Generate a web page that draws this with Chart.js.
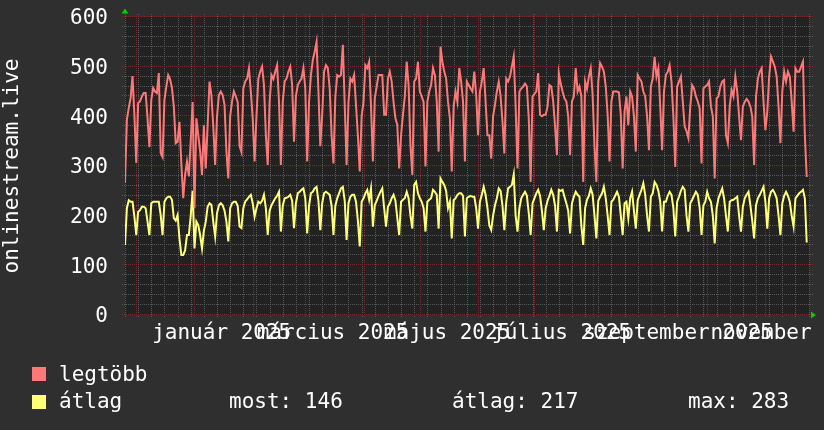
<!DOCTYPE html>
<html lang="hu">
<head>
<meta charset="utf-8">
<title>onlinestream.live</title>
<script src="https://cdn.jsdelivr.net/npm/chart.js@4.4.1/dist/chart.umd.min.js"></script>
<style>
  html, body { margin: 0; padding: 0; background: #2f2f2f; }
  #wrap {
    position: relative; width: 824px; height: 430px; overflow: hidden;
    font-family: 'DejaVu Sans Mono', monospace; font-size: 21px; color: #ffffff;
  }
  #chart { position: absolute; left: 0; top: 0; }
  .lg { position: absolute; line-height: 21px; white-space: pre; }
  .sw { position: absolute; width: 14px; height: 14px; }
</style>
</head>
<body>
<div id="wrap">
  <canvas id="chart" width="824" height="430"></canvas>
  <div class="sw" style="left:32px;top:367px;background:#ff7878"></div>
  <div class="lg" style="left:59px;top:364px">legtöbb</div>
  <div class="sw" style="left:32px;top:395px;background:#ffff78"></div>
  <div class="lg" style="left:59px;top:391px">átlag</div>
  <div class="lg" style="left:229px;top:391px">most: 146</div>
  <div class="lg" style="left:452px;top:391px">átlag: 217</div>
  <div class="lg" style="left:688px;top:391px">max: 283</div>
</div>
<script>
'use strict';

// ── Data: one value per day, day 0 = 2024-11-25 (Monday), one row per week ──
const legtobb = [
  266, 393, 417, 437, 481, 403, 306,
  427, 430, 440, 447, 447, 396, 338,
  433, 457, 450, 447, 487, 326, 318,
  433, 460, 483, 475, 457, 420, 346,
  349, 389, 305, 235, 282, 309, 279,
  350, 429, 215, 396, 362, 330, 282,
  382, 295, 382, 470, 443, 380, 302,
  400, 443, 450, 443, 423, 330, 275,
  400, 430, 450, 440, 429, 340, 328,
  456, 470, 476, 497, 450, 396, 309,
  400, 476, 490, 500, 463, 362, 302,
  429, 483, 475, 490, 503, 430, 302,
  429, 470, 476, 490, 500, 463, 349,
  440, 463, 470, 476, 497, 456, 309,
  429, 483, 513, 530, 550, 450, 340,
  403, 490, 503, 497, 456, 362, 305,
  440, 483, 480, 483, 544, 423, 302,
  429, 476, 470, 483, 423, 362, 289,
  400, 429, 503, 497, 510, 420, 309,
  436, 460, 483, 483, 483, 403, 403,
  476, 490, 470, 429, 396, 383, 295,
  362, 403, 440, 510, 463, 340, 282,
  470, 476, 510, 450, 440, 429, 299,
  429, 450, 463, 497, 483, 430, 329,
  540, 510, 490, 476, 429, 396, 289,
  420, 450, 429, 497, 470, 429, 309,
  470, 463, 456, 450, 490, 443, 362,
  450, 470, 497, 430, 362, 362, 315,
  400, 423, 450, 470, 440, 390, 325,
  476, 470, 480, 500, 520, 420, 295,
  450, 456, 460, 466, 460, 396, 268,
  440, 445, 450, 487, 403, 400, 403,
  403, 420, 463, 460, 430, 380, 322,
  487, 466, 450, 436, 430, 400, 322,
  430, 440, 497, 450, 460, 440, 268,
  470, 455, 480, 497, 443, 340, 268,
  470, 507, 500, 490, 460, 403, 309,
  430, 450, 450, 450, 448, 403, 295,
  409, 440, 382, 450, 440, 400, 329,
  483, 476, 470, 450, 440, 400, 332,
  460, 476, 520, 480, 497, 420, 332,
  450, 483, 490, 503, 470, 400, 298,
  460, 470, 480, 430, 380, 370, 356,
  420, 463, 456, 440, 430, 416, 305,
  456, 460, 463, 470, 420, 400, 275,
  436, 440, 460, 470, 473, 362, 346,
  420, 453, 440, 480, 450, 400, 352,
  420, 429, 435, 430, 420, 400, 302,
  440, 476, 490, 497, 430, 372, 409,
  480, 520, 510, 500, 480, 420, 346,
  450, 490, 470, 490, 480, 430, 369,
  497, 490, 490, 500, 510, 362, 278,
];

const atlag = [
  141, 215, 231, 228, 228, 198, 161,
  208, 211, 218, 218, 215, 188, 161,
  225, 228, 228, 228, 228, 201, 161,
  228, 235, 238, 238, 232, 195, 190,
  201, 154, 121, 121, 130, 161, 161,
  200, 250, 134, 188, 181, 161, 134,
  170, 188, 218, 225, 222, 188, 158,
  205, 221, 225, 221, 210, 188, 148,
  215, 225, 228, 228, 220, 178, 175,
  215, 228, 233, 238, 242, 225, 198,
  215, 228, 225, 230, 242, 215, 161,
  210, 221, 228, 235, 240, 248, 168,
  220, 235, 236, 238, 242, 230, 175,
  225, 245, 248, 252, 255, 235, 164,
  220, 245, 248, 255, 258, 230, 171,
  225, 245, 248, 245, 242, 220, 161,
  220, 235, 245, 255, 258, 230, 151,
  225, 238, 242, 242, 228, 190, 138,
  228, 235, 245, 252, 232, 255, 178,
  221, 230, 240, 248, 255, 215, 178,
  218, 225, 235, 242, 230, 195, 161,
  228, 232, 235, 248, 235, 200, 174,
  262, 268, 245, 235, 228, 215, 168,
  228, 232, 235, 252, 248, 242, 174,
  275, 268, 262, 250, 215, 228, 154,
  231, 235, 242, 245, 245, 240, 158,
  235, 238, 240, 238, 238, 215, 174,
  228, 242, 258, 242, 215, 180, 171,
  200, 221, 235, 255, 250, 220, 171,
  228, 255, 258, 262, 283, 200, 168,
  215, 235, 242, 248, 240, 205, 161,
  225, 235, 245, 252, 240, 210, 171,
  215, 230, 240, 252, 242, 220, 168,
  252, 250, 252, 238, 225, 210, 164,
  225, 238, 248, 242, 238, 180, 141,
  215, 232, 240, 255, 242, 200, 154,
  230, 238, 245, 258, 235, 200, 161,
  228, 232, 240, 248, 238, 200, 161,
  225, 228, 195, 235, 248, 210, 174,
  231, 242, 252, 265, 242, 200, 168,
  238, 245, 268, 262, 250, 228, 168,
  228, 228, 240, 248, 242, 215, 158,
  228, 238, 250, 258, 252, 200, 168,
  225, 232, 240, 248, 242, 215, 161,
  221, 228, 248, 235, 228, 200, 144,
  215, 235, 245, 255, 235, 200, 168,
  228, 231, 232, 235, 238, 200, 168,
  218, 235, 242, 248, 221, 190, 154,
  221, 235, 242, 250, 258, 228, 174,
  235, 248, 252, 245, 235, 200, 161,
  225, 240, 248, 240, 228, 200, 178,
  235, 240, 245, 248, 252, 235, 146,
];

// ── Axis data (in days since 2024-11-25) ──────────────────────────────────
const monthStarts = [6, 37, 68, 96, 127, 157, 188, 218, 249, 280, 310, 341];
const labelDays   = [51.5, 110.5, 171.5, 232.5, 294.5, 355.5];
const labelTexts  = ['január 2025', 'március 2025', 'május 2025', 'július 2025', 'szeptember 2025', 'november 2025'];
const yLabels     = [0, 100, 200, 300, 400, 500, 600];
const X_MAX = 364.75;

// ── Colours ───────────────────────────────────────────────────────────────
const RED    = '#ff7878';
const YELLOW = '#ffff78';
const TEXT   = '#ffffff';
const PLOT   = '#222222';
const MINOR  = '#585858';
const MAJOR  = '#772c2c';
const ARROW  = '#00d000';
const FONT   = { family: "'DejaVu Sans Mono', monospace", size: 21 };

const toPoints = (vals) => vals.map((v, i) => ({ x: i, y: v }));

const buildXTicks = () => {
  const ticks = [];
  for (let d = 0; d <= X_MAX; d += 7) ticks.push({ value: d, kind: 'week' });
  monthStarts.forEach(d => ticks.push({ value: d, kind: 'month' }));
  labelDays.forEach((d, i) => ticks.push({ value: d, kind: 'label', lab: labelTexts[i] }));
  return ticks.sort((a, b) => a.value - b.value);
};

const buildYTicks = () => {
  const ticks = [];
  for (let v = 0; v <= 600; v += 20) ticks.push({ value: v, kind: v % 100 === 0 ? 'major' : 'minor' });
  return ticks;
};

// ── Plot background, dotted rrd-style grid, axis arrows ───────────────────
const rrdFrame = {
  id: 'rrdFrame',
  beforeDatasetsDraw(chart) {
    const { ctx, chartArea: a, scales } = chart;
    ctx.save();
    ctx.fillStyle = PLOT;
    ctx.fillRect(a.left, a.top, a.right - a.left, a.bottom - a.top);
    ctx.lineWidth = 1;
    ctx.setLineDash([1, 1]);   // rrdtool's default grid dash 1:1

    // grid lines poke 3px out of the plot, like rrdtool's tick marks
    const vLine = (px, color) => {
      const x = Math.round(px) + 0.5;
      ctx.strokeStyle = color;
      ctx.beginPath(); ctx.moveTo(x, a.top - 3); ctx.lineTo(x, a.bottom + 3); ctx.stroke();
    };
    const hLine = (py, color) => {
      const y = Math.round(py) - 0.5;
      ctx.strokeStyle = color;
      ctx.beginPath(); ctx.moveTo(a.left - 3, y); ctx.lineTo(a.right + 3, y); ctx.stroke();
    };

    // minor first, major on top
    scales.x.ticks.filter(t => t.kind === 'week').forEach(t => vLine(scales.x.getPixelForValue(t.value), MINOR));
    scales.y.ticks.filter(t => t.kind === 'minor').forEach(t => hLine(scales.y.getPixelForValue(t.value), MINOR));
    scales.x.ticks.filter(t => t.kind === 'month').forEach(t => vLine(scales.x.getPixelForValue(t.value), MAJOR));
    scales.y.ticks.filter(t => t.kind === 'major').forEach(t => hLine(scales.y.getPixelForValue(t.value), MAJOR));
    ctx.restore();
  },
  afterDraw(chart) {
    const { ctx, chartArea: a } = chart;
    ctx.save();
    ctx.fillStyle = ARROW;
    ctx.beginPath();
    ctx.moveTo(a.left - 3.5, a.top - 3.5);
    ctx.lineTo(a.left + 3.5, a.top - 3.5);
    ctx.lineTo(a.left, a.top - 8.5);
    ctx.closePath();
    ctx.fill();
    ctx.beginPath();
    ctx.moveTo(a.right + 1, a.bottom - 3.5);
    ctx.lineTo(a.right + 1, a.bottom + 3.5);
    ctx.lineTo(a.right + 6, a.bottom);
    ctx.closePath();
    ctx.fill();
    ctx.restore();
  },
};

new Chart(document.getElementById('chart'), {
  type: 'line',
  data: {
    datasets: [
      { label: 'legtöbb', data: toPoints(legtobb), borderColor: RED,
        borderWidth: 2, pointRadius: 0, tension: 0, fill: false },
      { label: 'átlag', data: toPoints(atlag), borderColor: YELLOW,
        borderWidth: 2, pointRadius: 0, tension: 0, fill: false },
    ],
  },
  options: {
    responsive: false,
    animation: false,
    events: [],
    layout: { padding: { top: 17, right: 14, left: 0, bottom: 0 } },
    plugins: { legend: { display: false }, tooltip: { enabled: false } },
    scales: {
      x: {
        type: 'linear', min: 0, max: X_MAX, bounds: 'data',
        afterBuildTicks: (axis) => { axis.ticks = buildXTicks(); },
        afterFit: (axis) => { axis.height = 115; axis.paddingLeft = 0; axis.paddingRight = 0; },
        grid: { display: false, drawTicks: false },
        border: { display: false },
        ticks: {
          autoSkip: false, maxRotation: 0, minRotation: 0, padding: 6,
          color: TEXT, font: FONT,
          callback: (v, i, ticks) => ticks[i].lab || '',
        },
      },
      y: {
        type: 'linear', min: 0, max: 600, bounds: 'data',
        afterBuildTicks: (axis) => { axis.ticks = buildYTicks(); },
        afterFit: (axis) => { axis.width = 125; axis.paddingTop = 0; axis.paddingBottom = 0; },
        grid: { display: false, drawTicks: false },
        border: { display: false },
        ticks: {
          autoSkip: false, padding: 17, color: TEXT,
          // empty first line + 4px line height nudges each label 2px down
          font: { ...FONT, lineHeight: '4px' },
          callback: (v) => (yLabels.includes(v) ? ['', String(v)] : ''),
        },
        title: { display: true, text: 'onlinestream.live', color: TEXT, font: FONT, padding: 0 },
      },
    },
  },
  plugins: [rrdFrame],
});
</script>
</body>
</html>
